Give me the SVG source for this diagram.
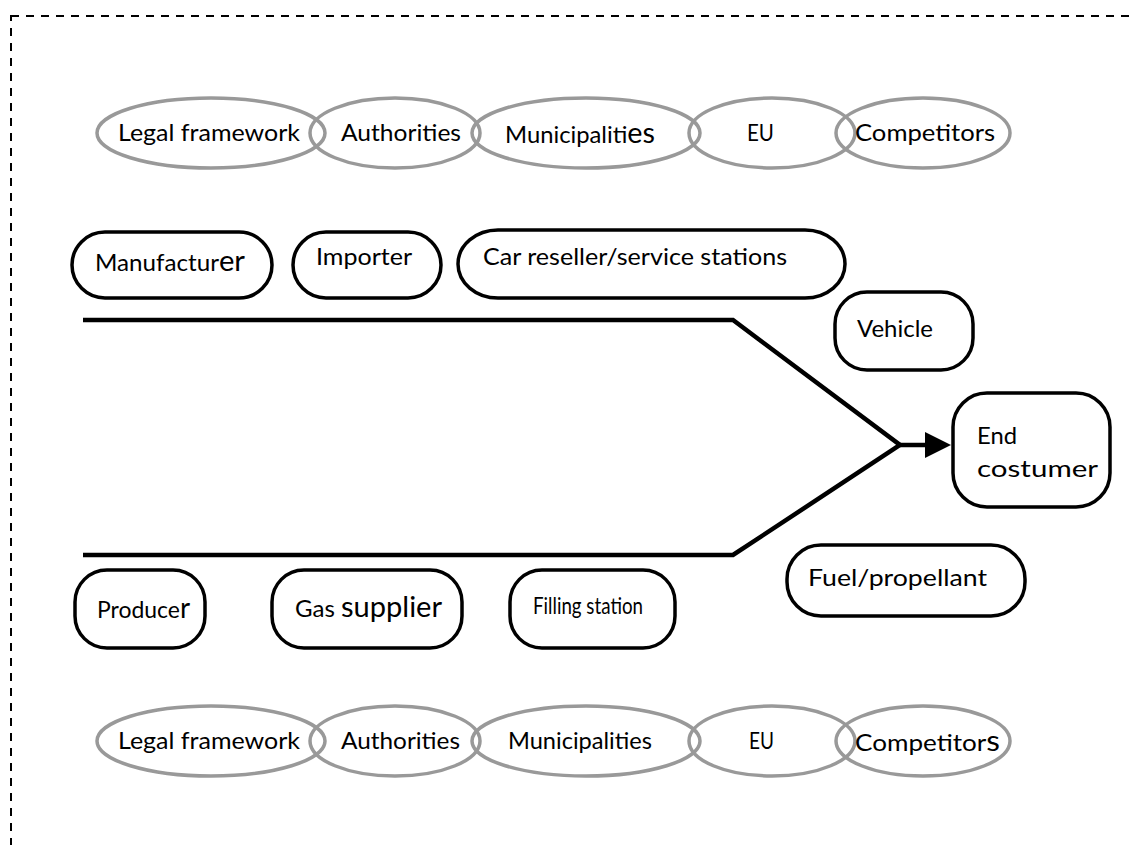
<svg xmlns="http://www.w3.org/2000/svg" width="1129" height="845" viewBox="0 0 1129 845">
<style>
text{font-family:Lato,"Open Sans","DejaVu Sans",sans-serif;font-size:24px;fill:#000}
.ell{fill:none;stroke:#999;stroke-width:3.5}
.box{fill:#fff;stroke:#000;stroke-width:3.5}
.big{font-size:29px}
.conn{fill:none;stroke:#000;stroke-width:4.5;stroke-linejoin:miter}
</style>
<rect x="11" y="16" width="1140" height="850" fill="none" stroke="#000" stroke-width="2" stroke-dasharray="8,7"/>
<g id="top-legal"><ellipse class="ell" cx="211" cy="133" rx="114" ry="35"/><text x="118" y="141" textLength="182" lengthAdjust="spacingAndGlyphs">Legal framework</text></g>
<g id="top-authorities"><ellipse class="ell" cx="395" cy="133" rx="85" ry="35"/><text x="341" y="141" textLength="120" lengthAdjust="spacingAndGlyphs">Authorities</text></g>
<g id="top-municipalities"><ellipse class="ell" cx="586" cy="133" rx="114" ry="35"/><text x="505" y="143" textLength="150" lengthAdjust="spacingAndGlyphs">Municipaliti<tspan class="big">es</tspan></text></g>
<g id="top-eu"><ellipse class="ell" cx="772" cy="133" rx="83" ry="35"/><text x="747" y="141" textLength="27" lengthAdjust="spacingAndGlyphs">EU</text></g>
<g id="top-competitors"><ellipse class="ell" cx="923" cy="133" rx="87" ry="35"/><text x="855" y="141" textLength="140" lengthAdjust="spacingAndGlyphs">Competitors</text></g>

<g id="manufacturer"><rect class="box" x="72" y="232" width="200" height="66" rx="33"/><text x="95" y="271" textLength="150" lengthAdjust="spacingAndGlyphs">Manufactur<tspan class="big">er</tspan></text></g>
<g id="importer"><rect class="box" x="293" y="232" width="148" height="66" rx="33"/><text x="316" y="265" textLength="96" lengthAdjust="spacingAndGlyphs">Importer</text></g>
<g id="car-reseller"><rect class="box" x="458" y="230" width="387" height="68" rx="40"/><text x="483" y="265" textLength="304" lengthAdjust="spacingAndGlyphs">Car reseller/service stations</text></g>
<g id="vehicle"><rect class="box" x="835" y="292" width="138" height="78" rx="32"/><text x="857" y="337" textLength="76" lengthAdjust="spacingAndGlyphs">Vehicle</text></g>
<g id="end-costumer"><rect class="box" x="953" y="393" width="157" height="114" rx="34"/><text x="977" y="444" textLength="40" lengthAdjust="spacingAndGlyphs">End</text><text x="977" y="477" textLength="121" lengthAdjust="spacingAndGlyphs">costumer</text></g>
<g id="fuel"><rect class="box" x="787" y="545" width="238" height="71" rx="34"/><text x="808" y="586" textLength="179" lengthAdjust="spacingAndGlyphs">Fuel/propellant</text></g>
<g id="producer"><rect class="box" x="75" y="570" width="130" height="78" rx="32"/><text x="97" y="618" textLength="93" lengthAdjust="spacingAndGlyphs">Produce<tspan class="big">r</tspan></text></g>
<g id="gas-supplier"><rect class="box" x="272" y="570" width="190" height="78" rx="32"/><text x="295" y="617" textLength="147" lengthAdjust="spacingAndGlyphs">Gas <tspan class="big">supplier</tspan></text></g>
<g id="filling-station"><rect class="box" x="510" y="570" width="165" height="78" rx="32"/><text x="533" y="614" textLength="110" lengthAdjust="spacingAndGlyphs">Filling station</text></g>

<g id="bottom-legal"><ellipse class="ell" cx="211" cy="741" rx="114" ry="35"/><text x="118" y="749" textLength="182" lengthAdjust="spacingAndGlyphs">Legal framework</text></g>
<g id="bottom-authorities"><ellipse class="ell" cx="395" cy="741" rx="85" ry="35"/><text x="341" y="749" textLength="119" lengthAdjust="spacingAndGlyphs">Authorities</text></g>
<g id="bottom-municipalities"><ellipse class="ell" cx="586" cy="741" rx="114" ry="35"/><text x="508" y="749" textLength="144" lengthAdjust="spacingAndGlyphs">Municipalities</text></g>
<g id="bottom-eu"><ellipse class="ell" cx="772" cy="741" rx="83" ry="35"/><text x="749" y="749" textLength="25" lengthAdjust="spacingAndGlyphs">EU</text></g>
<g id="bottom-competitors"><ellipse class="ell" cx="923" cy="741" rx="87" ry="35"/><text x="855" y="751" textLength="145" lengthAdjust="spacingAndGlyphs">Competitor<tspan class="big">s</tspan></text></g>

<g id="connectors">
<polyline class="conn" points="83,320 733,320 900,445 733,555 83,555"/>
<line class="conn" x1="900" y1="445" x2="927" y2="445"/>
<polygon points="925,432 951,445 925,458" fill="#000"/>
</g>
</svg>
